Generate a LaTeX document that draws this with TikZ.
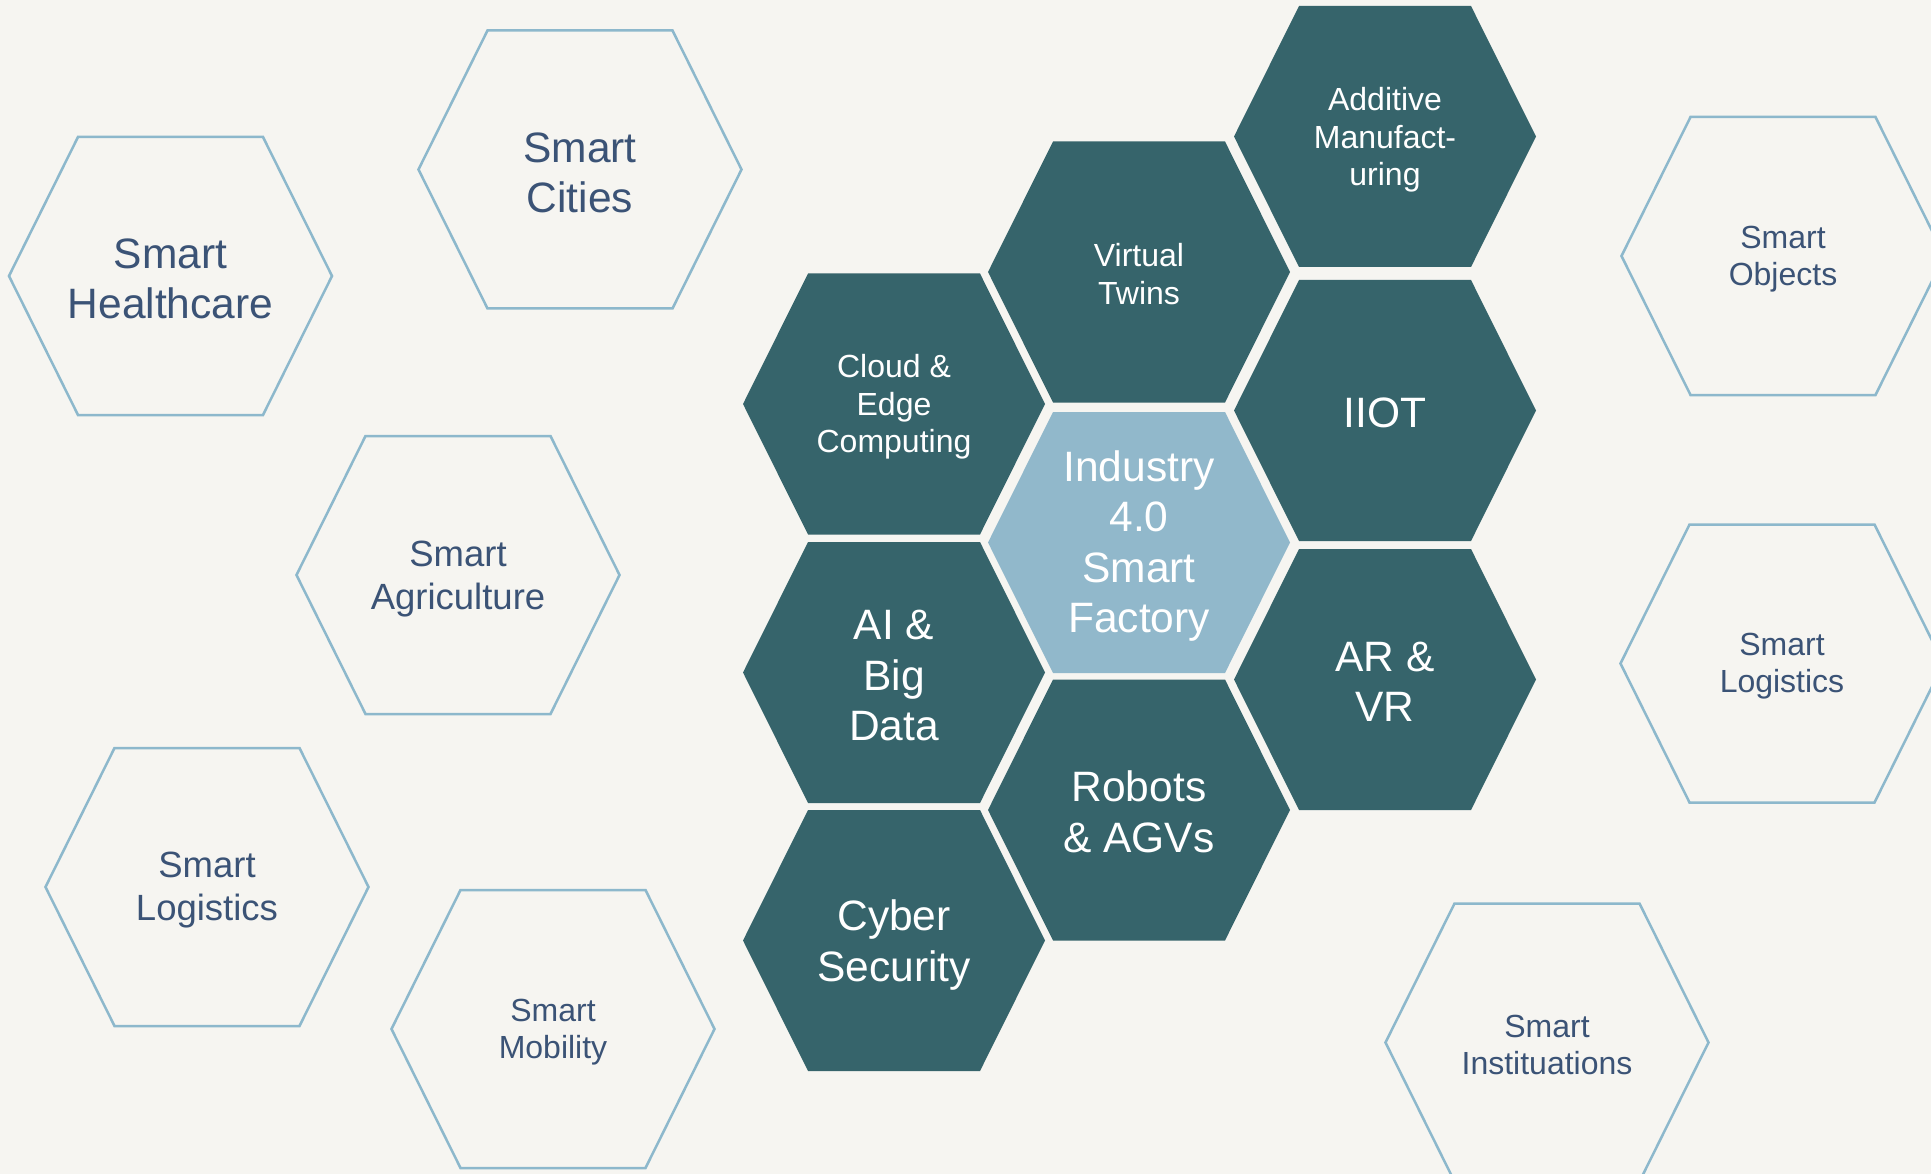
\documentclass[tikz,border=0pt]{standalone}
\usepackage{fontspec}
\setmainfont{Liberation Sans}
\usetikzlibrary{calc}
\definecolor{bgc}{HTML}{F6F5F1}
\definecolor{darkhex}{HTML}{36646B}
\definecolor{midhex}{HTML}{91B8CB}
\definecolor{outl}{HTML}{8DB8CC}
\definecolor{navy}{HTML}{3B5376}
\tikzset{
  darkstyle/.style={fill=darkhex,draw=none},
  midstyle/.style={fill=midhex,draw=none},
  outlstyle/.style={draw=outl,line width=2.5pt,fill=none,line join=miter},
  lbl/.style={align=center,inner sep=0pt},
  wtxt/.style={lbl,text=white},
  ntxt/.style={lbl,text=navy},
  fbig/.style={font=\fontsize{42.5}{50.5}\selectfont},
  fmid/.style={font=\fontsize{36.5}{43.5}\selectfont},
  fsml/.style={font=\fontsize{32}{37.5}\selectfont},
}
% dark hex: width 302, height 261, offset 65
\newcommand{\dhex}[3]{%
  \fill[#3] ($(#1,#2)+(-151,0)$) -- ++(65,-130.5) -- ++(172,0) -- ++(65,130.5) -- ++(-65,130.5) -- ++(-172,0) -- cycle;}
% outline hex: width 323, height 278, offset 69
\newcommand{\ohex}[2]{%
  \draw[outlstyle] ($(#1,#2)+(-161.5,0)$) -- ++(69,-139) -- ++(185,0) -- ++(69,139) -- ++(-69,139) -- ++(-185,0) -- cycle;}
\begin{document}
\begin{tikzpicture}[x=1pt,y=-1pt]
\useasboundingbox (0,0) rectangle (1931,1174);
\fill[bgc] (0,0) rectangle (1931,1174);
\clip (0,0) rectangle (1931,1174);

% outline hexagons
\ohex{170.5}{276}
\ohex{580}{169.5}
\ohex{458}{575}
\ohex{207}{887}
\ohex{553}{1029}
\ohex{1783}{256}
\ohex{1782}{663.5}
\ohex{1547}{1042.5}

\node[ntxt,fbig] (health) at (170.5,279) {Smart\\Healthcare};
\node[ntxt,fbig] (cities) at (580,173) {Smart\\Cities};
\node[ntxt,fmid] (agri) at (458,579) {Smart\\Agriculture};
\node[ntxt,fmid] (logl) at (207,890) {Smart\\Logistics};
\node[ntxt,fsml] (mob) at (553,1032) {Smart\\Mobility};
\node[ntxt,fsml] (obj) at (1783,259) {Smart\\Objects};
\node[ntxt,fsml] (logr) at (1782,666) {Smart\\Logistics};
\node[ntxt,fsml] (inst) at (1547,1045) {Smart\\Instituations};

% dark hexagons
\dhex{894}{404}{darkstyle}
\dhex{894}{672.5}{darkstyle}
\dhex{894}{940.5}{darkstyle}
\dhex{1139}{272}{darkstyle}
\dhex{1139}{542.5}{midstyle}
\dhex{1139}{810}{darkstyle}
\dhex{1385}{136.5}{darkstyle}
\dhex{1385}{410.5}{darkstyle}
\dhex{1385}{679.5}{darkstyle}

\node[wtxt,fsml] (cloud) at (894,407) {Cloud \&\\Edge\\Computing};
\node[wtxt,fbig] (ai) at (894,676) {AI \&\\ Big\\Data};
\node[wtxt,fbig] (cyber) at (894,945) {Cyber\\Security};
\node[wtxt,fsml] (vt) at (1139,274) {Virtual\\Twins};
\node[wtxt,fbig] (ind) at (1139,546) {Industry\\4.0\\Smart\\Factory};
\node[wtxt,fbig] (rob) at (1139,812) {Robots\\\& AGVs};
\node[wtxt,fsml] (add) at (1385,140) {Additive\\Manufact-\\uring};
\node[wtxt,fbig] (iiot) at (1385,413) {IIOT};
\node[wtxt,fbig] (arvr) at (1385,682) {AR \&\\VR};
\end{tikzpicture}
\end{document}
